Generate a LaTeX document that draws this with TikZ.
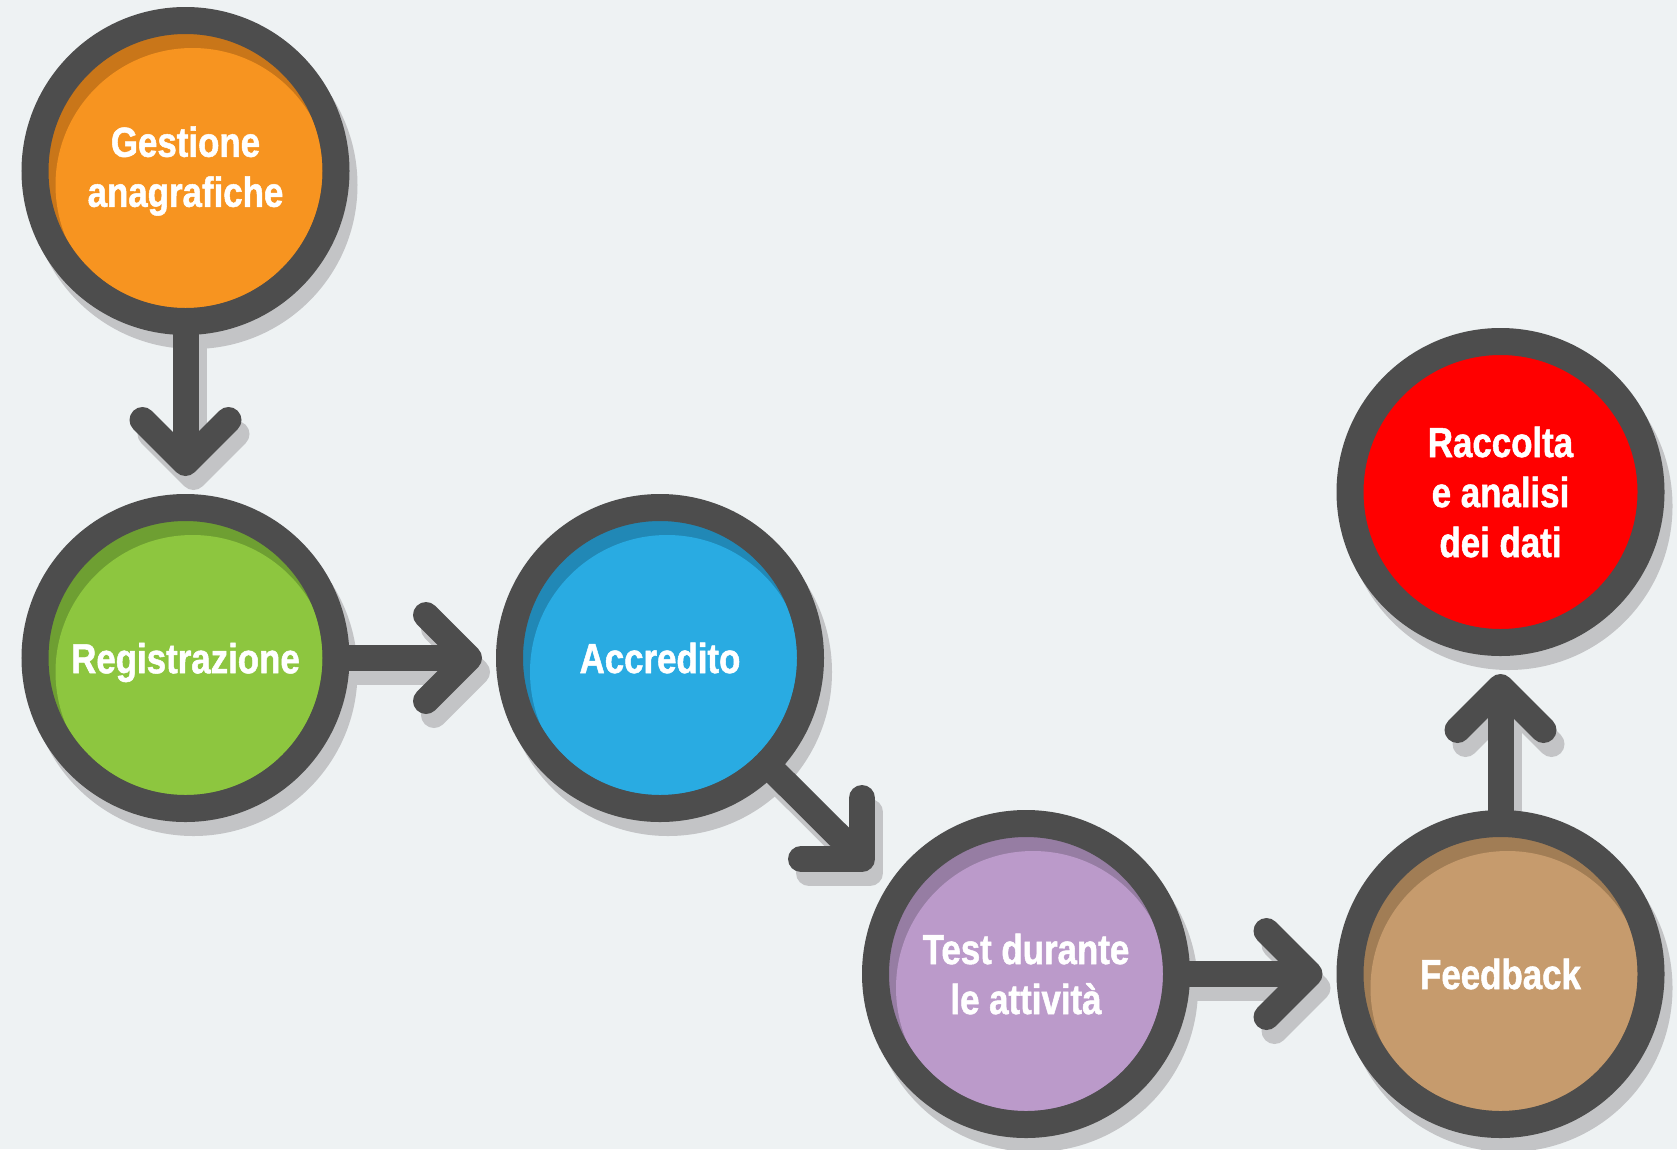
\documentclass[tikz,border=0pt]{standalone}
\usepackage{fontspec}
\setmainfont{Liberation Sans}[FakeStretch=0.83, BoldFeatures={FakeBold=1.2}]
\usetikzlibrary{calc}
\pgfdeclarelayer{bg}
\pgfdeclarelayer{shadow}
\pgfdeclarelayer{arrows}
\pgfsetlayers{bg,shadow,arrows,main}
\definecolor{bgc}{HTML}{EEF2F3}
\definecolor{ringc}{HTML}{4D4D4D}
\definecolor{shadowc}{HTML}{C3C4C6}
\definecolor{orangeL}{HTML}{F79420}
\definecolor{orangeD}{HTML}{C97619}
\definecolor{greenL}{HTML}{8DC63F}
\definecolor{greenD}{HTML}{6E9F32}
\definecolor{blueL}{HTML}{29ABE2}
\definecolor{blueD}{HTML}{2188B6}
\definecolor{purpleL}{HTML}{BB9ACA}
\definecolor{purpleD}{HTML}{967DA3}
\definecolor{brownL}{HTML}{C69B6D}
\definecolor{brownD}{HTML}{A17D55}
\definecolor{redL}{HTML}{FF0000}
\newcommand\flowarrows[1]{%
  \draw[shaft,#1] (g.center) -- (v1);
  \draw[headc,#1] ($(v1)+(-43,-43)$) -- (v1) -- ($(v1)+(43,-43)$);
  \draw[shaft,#1] (r.center) -- (v2);
  \draw[headc,#1] ($(v2)+(-43,-43)$) -- (v2) -- ($(v2)+(-43,43)$);
  \draw[shaft,#1] (a.center) -- (v3);
  \draw[headc,#1] ($(v3)+(0,-61)$) -- (v3) -- ($(v3)+(-61,0)$);
  \draw[shaft,#1] (t.center) -- (v4);
  \draw[headc,#1] ($(v4)+(-43,-43)$) -- (v4) -- ($(v4)+(-43,43)$);
  \draw[shaft,#1] (f.center) -- (v5);
  \draw[headc,#1] ($(v5)+(-43,43)$) -- (v5) -- ($(v5)+(43,43)$);
}
\begin{document}
\begin{tikzpicture}[x=1pt,y=-1pt,
  stepc/.style 2 args={circle, minimum size=301pt, inner sep=0pt, outer sep=13.5pt,
    draw=ringc, line width=27pt, fill=#2, text=white,
    font=\fontsize{42}{50}\selectfont\bfseries, align=center,
    path picture={\clip (path picture bounding box.center) circle (137pt);
      \fill[#1] ([shift={(7,14)}]path picture bounding box.center) circle (137pt);}},
  shaft/.style={draw=ringc, line width=26pt},
  headc/.style={draw=ringc, line width=26pt, line cap=round, line join=round}]
\begin{pgfonlayer}{bg}
  \fill[bgc] (0,0) rectangle (1677,1149);
\end{pgfonlayer}
\useasboundingbox (0,0) rectangle (1677,1149);

\node[stepc={orangeL}{orangeD}] (g) at (185.5,171) {Gestione\\anagrafiche};
\node[stepc={greenL}{greenD}, text depth=0pt] (r) at (185.5,658) {Registrazione};
\node[stepc={blueL}{blueD}] (a) at (660,658) {Accredito};
\node[stepc={purpleL}{purpleD}] (t) at (1026,974) {Test durante\\le attività};
\node[stepc={brownL}{brownD}] (f) at (1500.5,974) {Feedback};
\node[stepc={redL}{redL}] (rc) at (1500.5,492) {Raccolta\\e analisi\\dei dati};

\coordinate (v1) at ($(r.north)+(0,-31)$);
\coordinate (v2) at ($(a.west)+(-27,0)$);
\coordinate (v3) at ($(a.center)+(202,201)$);
\coordinate (v4) at ($(f.west)+(-27,0)$);
\coordinate (v5) at ($(rc.south)+(0,31)$);

\begin{pgfonlayer}{shadow}
  \foreach \n in {g,r,a,t,f,rc}
    \fill[shadowc] ([shift={(8,14)}]\n.center) circle (164pt);
  \begin{scope}[transform canvas={shift={(8,14)}}]
    \flowarrows{shadowc}
  \end{scope}
\end{pgfonlayer}
\begin{pgfonlayer}{arrows}
  \flowarrows{ringc}
\end{pgfonlayer}
\end{tikzpicture}
\end{document}
